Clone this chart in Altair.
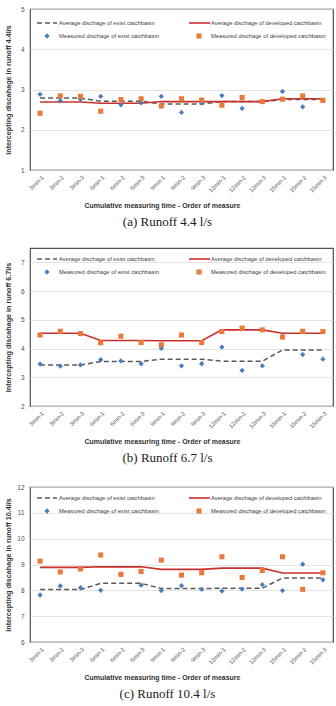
import altair as alt
import pandas as pd

# Order of measure (cumulative measuring time)
orders = ["3min-1", "3min-2", "3min-3", "6min-1", "6min-2", "6min-3",
          "9min-1", "9min-2", "9min-3", "12min-1", "12min-2", "12min-3",
          "15min-1", "15min-2", "15min-3"]

# Runoff 4.4 l/s
exist_44 = [2.88, 2.72, 2.76, 2.83, 2.62, 2.67, 2.83, 2.43, 2.66, 2.85, 2.53, 2.70, 2.95, 2.57, 2.73]
dev_44 = [2.41, 2.84, 2.83, 2.46, 2.75, 2.77, 2.59, 2.77, 2.74, 2.61, 2.80, 2.70, 2.76, 2.84, 2.73]
exist_avg_44 = [2.79, 2.71, 2.64, 2.70, 2.75]
dev_avg_44 = [2.69, 2.66, 2.70, 2.70, 2.77]

# Runoff 6.7 l/s
exist_67 = [3.46, 3.39, 3.43, 3.61, 3.57, 3.47, 4.01, 3.40, 3.47, 4.05, 3.24, 3.40, 4.42, 3.79, 3.63]
dev_67 = [4.47, 4.60, 4.52, 4.20, 4.43, 4.21, 4.13, 4.47, 4.21, 4.59, 4.71, 4.65, 4.40, 4.60, 4.59]
exist_avg_67 = [3.43, 3.55, 3.63, 3.56, 3.95]
dev_avg_67 = [4.53, 4.28, 4.27, 4.65, 4.53]

# Runoff 10.4 l/s
exist_104 = [7.82, 8.17, 8.10, 8.00, 8.61, 8.20, 7.99, 8.18, 8.04, 7.97, 8.05, 8.22, 7.99, 9.01, 8.41]
dev_104 = [9.13, 8.71, 8.83, 9.37, 8.62, 8.73, 9.17, 8.59, 8.68, 9.30, 8.50, 8.77, 9.30, 8.04, 8.68]
exist_avg_104 = [8.03, 8.27, 8.07, 8.08, 8.48]
dev_avg_104 = [8.89, 8.91, 8.81, 8.86, 8.67]

BLUE = "#4a7ebb"
ORANGE = "#ea7a3c"
RED = "#c8302c"
GRAY = "#595959"
SANS = "Liberation Sans"

legend_items = [
    "Average dischage of exist catchbasin",
    "Average dischage of developed catchbasin",
    "Measured dischage of exist catchbasin",
    "Measured dischage of developed catchbasin",
]


def panel(exist, dev, exist_avg, dev_avg, ydomain, yticks, rate, letter, height, leg_y):
    avg_e = [v for v in exist_avg for _ in range(3)]
    avg_d = [v for v in dev_avg for _ in range(3)]
    df = pd.DataFrame({"order": orders, "exist": exist, "dev": dev,
                       "avg_e": avg_e, "avg_d": avg_d})
    x = alt.X("order:N", sort=orders, scale=alt.Scale(padding=0.5),
              axis=alt.Axis(title="Cumulative measuring time - Order of measure",
                            labelAngle=-45, labelFontSize=5.8, labelColor=GRAY,
                            labelFont=SANS, ticks=False, domain=False, grid=False,
                            labelPadding=4, titlePadding=9, titleFontSize=7,
                            titleFont=SANS, titleFontWeight="bold", titleColor="#333333",
                            titleX=132))
    yscale = alt.Scale(domain=ydomain, nice=False, zero=False)
    yaxis = alt.Axis(values=yticks, tickCount=len(yticks),
                     title=f"Intercepting discahage in runoff  {rate}l/s",
                     labelFontSize=6.5, labelColor="#4d4d4d", labelFont=SANS, ticks=False,
                     labelOverlap=False, labelFlush=False, labelSeparation=0,
                     domain=False, grid=True, gridColor="#dcdcdc", gridWidth=0.8,
                     labelPadding=6, minExtent=14, maxExtent=14, titlePadding=4,
                     titleFontSize=7.2, titleFont=SANS, titleFontWeight="bold",
                     titleColor="#333333")
    base = alt.Chart(df)
    avg_exist = base.mark_line(color=GRAY, strokeDash=[5, 3], strokeWidth=1.5).encode(
        x=x, y=alt.Y("avg_e:Q", scale=yscale, axis=yaxis))
    avg_dev = base.mark_line(color=RED, strokeWidth=1.6).encode(
        x=x, y=alt.Y("avg_d:Q", scale=yscale, axis=yaxis))
    pts_exist = base.mark_point(shape="diamond", filled=True, size=28, color=BLUE,
                                opacity=1).encode(x=x, y=alt.Y("exist:Q", scale=yscale, axis=yaxis))
    pts_dev = base.mark_square(size=26, color=ORANGE, opacity=1).encode(
        x=x, y=alt.Y("dev:Q", scale=yscale, axis=yaxis))

    # in-plot legend
    leg = alt.Chart(pd.DataFrame({"k": [0]}))
    y1, y2 = leg_y, leg_y + 13
    leg_layers = [
        leg.mark_rule(color=GRAY, strokeDash=[5, 3], strokeWidth=1.5).encode(
            x=alt.value(7), x2=alt.value(27), y=alt.value(y1)),
        leg.mark_rule(color=RED, strokeWidth=1.6).encode(
            x=alt.value(159), x2=alt.value(180), y=alt.value(y1)),
        leg.mark_point(shape="diamond", filled=True, size=28, color=BLUE, opacity=1).encode(
            x=alt.value(17), y=alt.value(y2)),
        leg.mark_square(size=26, color=ORANGE, opacity=1).encode(
            x=alt.value(169), y=alt.value(y2)),
    ]
    for txt, tx, ty in zip(legend_items, [29, 181, 29, 181], [y1, y1, y2, y2]):
        leg_layers.append(
            leg.mark_text(text=txt, align="left", baseline="middle", fontSize=5.8,
                          font=SANS, color="#404040").encode(
                x=alt.value(tx), y=alt.value(ty)))

    return alt.layer(avg_exist, avg_dev, pts_exist, pts_dev, *leg_layers).properties(
        width=303, height=height,
        title=alt.TitleParams(text=f"({letter})  Runoff  {rate}  l/s", orient="bottom",
                              font="Liberation Serif", fontSize=13, fontWeight="normal",
                              color="#222222", anchor="middle", frame="group", dx=-14,
                              offset=7))


chart = alt.vconcat(
    panel(exist_44, dev_44, exist_avg_44, dev_avg_44, [1, 5], [1, 2, 3, 4, 5], "4.4", "a", 161, 14),
    panel(exist_67, dev_67, exist_avg_67, dev_avg_67, [2, 7.5], [2, 3, 4, 5, 6, 7], "6.7", "b", 158, 11),
    panel(exist_104, dev_104, exist_avg_104, dev_avg_104, [6, 12], [6, 7, 8, 9, 10, 11, 12], "10.4", "c", 155, 11),
    spacing=17,
).properties(
    padding={"left": 3, "top": 5, "right": 2, "bottom": 2}, background="white"
).configure_view(stroke="#505050", strokeWidth=1.2)

chart.save("out.html", embed_options={"renderer": "svg", "actions": False})
